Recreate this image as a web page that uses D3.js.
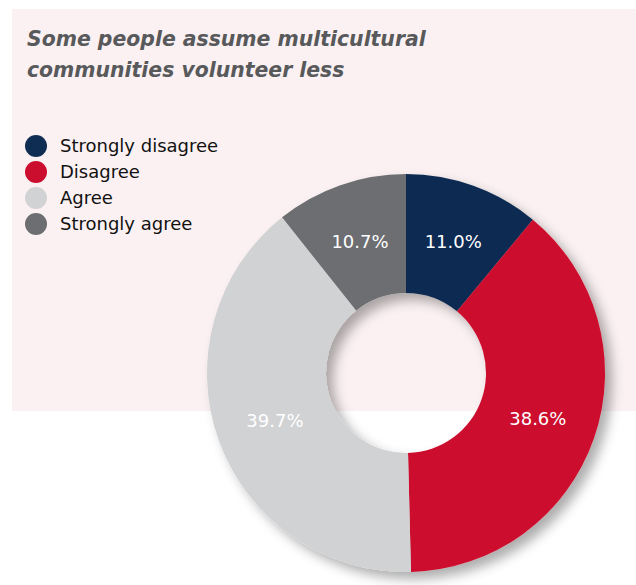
<!DOCTYPE html>
<html>
<head>
<meta charset="utf-8">
<script src="https://cdn.jsdelivr.net/npm/d3@7"></script>
<style>
  html, body { margin: 0; padding: 0; background: #ffffff; }
  svg { display: block; }
</style>
</head>
<body>
<div id="chart"></div>
<script>
// Survey responses, in order clockwise from 12 o'clock
const categories = ["Strongly disagree", "Disagree", "Agree", "Strongly agree"];
const values = [11.0, 38.6, 39.7, 10.7];
const colors = ["#0f2c52", "#cc0e2e", "#d1d2d4", "#6d6e71"];
const titleLines = ["Some people assume multicultural", "communities volunteer less"];

const width = 636, height = 585;
const cx = 406, cy = 373, outerR = 199, innerR = 80;

const svg = d3.select("#chart").append("svg")
  .attr("width", width)
  .attr("height", height);

// soft drop shadow under the ring
const defs = svg.append("defs");
const f = defs.append("filter").attr("id", "ringShadow")
  .attr("x", "-20%").attr("y", "-20%").attr("width", "150%").attr("height", "150%");
f.append("feDropShadow")
  .attr("dx", 7).attr("dy", 7).attr("stdDeviation", 6)
  .attr("flood-color", "#000").attr("flood-opacity", 0.32);

// panel background
svg.append("rect")
  .attr("x", 12).attr("y", 9)
  .attr("width", width - 12).attr("height", 402)
  .attr("fill", "#fbf1f2");

// title
svg.append("g").selectAll("text")
  .data(titleLines)
  .join("text")
  .attr("x", 27)
  .attr("y", (d, i) => 46 + i * 31)
  .attr("font-family", "DejaVu Sans, Verdana, sans-serif")
  .attr("font-weight", "bold")
  .attr("font-style", "italic")
  .attr("font-size", 20.4)
  .attr("fill", "#58595b")
  .text(d => d);

// legend
const legend = svg.append("g").selectAll("g")
  .data(categories)
  .join("g")
  .attr("transform", (d, i) => `translate(36, ${146 + i * 26})`);
legend.append("circle")
  .attr("r", 11)
  .attr("fill", (d, i) => colors[i]);
legend.append("text")
  .attr("x", 24)
  .attr("dy", "0.36em")
  .attr("font-family", "DejaVu Sans, Verdana, sans-serif")
  .attr("font-size", 18)
  .attr("fill", "#111111")
  .text(d => d);

// donut
const pie = d3.pie().sort(null).value(d => d);
const arc = d3.arc().innerRadius(innerR).outerRadius(outerR);
const arcs = pie(values);

const g = svg.append("g").attr("transform", `translate(${cx},${cy})`);
g.append("g").attr("filter", "url(#ringShadow)")
  .selectAll("path")
  .data(arcs)
  .join("path")
  .attr("d", arc)
  .attr("fill", (d, i) => colors[i]);

g.append("g").selectAll("text")
  .data(arcs)
  .join("text")
  .attr("transform", d => `translate(${arc.centroid(d)})`)
  .attr("text-anchor", "middle")
  .attr("dy", "0.36em")
  .attr("font-family", "DejaVu Sans, Verdana, sans-serif")
  .attr("font-size", 18)
  .attr("fill", "#ffffff")
  .text(d => d.data.toFixed(1) + "%");
</script>
</body>
</html>
